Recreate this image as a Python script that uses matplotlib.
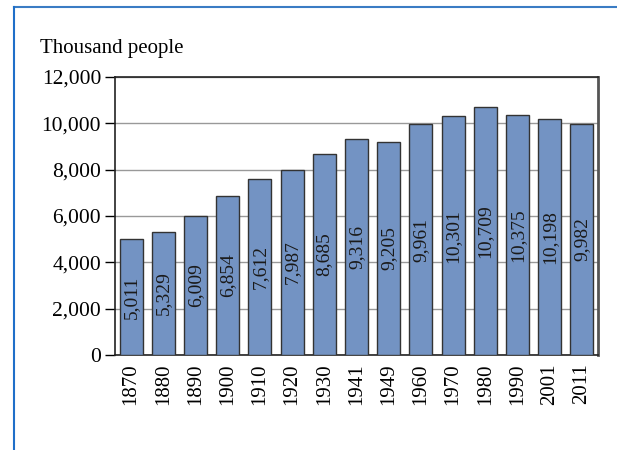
import matplotlib.pyplot as plt
from matplotlib.lines import Line2D

years = ['1870', '1880', '1890', '1900', '1910', '1920', '1930', '1941',
         '1949', '1960', '1970', '1980', '1990', '2001', '2011']
population = [5011, 5329, 6009, 6854, 7612, 7987, 8685, 9316,
              9205, 9961, 10301, 10709, 10375, 10198, 9982]

plt.rcParams['font.family'] = ['Liberation Serif', 'DejaVu Serif']

fig = plt.figure(figsize=(6.17, 4.5), dpi=100)
ax = fig.add_axes([115 / 617, 1 - 355 / 450, 483 / 617, 278 / 450])

x = range(len(years))
bars = ax.bar(x, population, width=0.72, color='#7393c3',
              edgecolor='#333333', linewidth=1.0, zorder=3)

for i, v in enumerate(population):
    ax.text(i, v / 2, f'{v:,}', rotation=90, ha='center', va='center',
            fontsize=14, color='#1a1a1a', zorder=4)

ax.set_ylim(0, 12000)
ax.set_xlim(-0.5, len(years) - 0.5)
ax.set_yticks(range(0, 12001, 2000))
ax.set_yticklabels([f'{t:,}' for t in range(0, 12001, 2000)], fontsize=15.5)
ax.set_xticks(list(x))
ax.set_xticklabels(years, rotation=90, fontsize=15)
ax.tick_params(axis='y', direction='out', length=7, width=1, pad=3)
ax.tick_params(axis='x', length=0, pad=6)
ax.yaxis.grid(True, color='#999999', linewidth=1, zorder=0)

for side in ['left', 'bottom', 'top']:
    ax.spines[side].set_color('#222222')
    ax.spines[side].set_linewidth(1.2)
ax.spines['right'].set_color('#555555')
ax.spines['right'].set_linewidth(2)

fig.text(40 / 617, 1 - 48 / 450, 'Thousand people', fontsize=15,
         ha='left', va='center')

# blue frame along the top and left edges
fig.add_artist(Line2D([14 / 617, 1], [1 - 7 / 450, 1 - 7 / 450],
                      transform=fig.transFigure, color='#3a7cc4', linewidth=1.5))
fig.add_artist(Line2D([14 / 617, 14 / 617], [0, 1 - 7 / 450],
                      transform=fig.transFigure, color='#1f6fc9', linewidth=1.5))

fig.savefig('out.png', dpi=100)
